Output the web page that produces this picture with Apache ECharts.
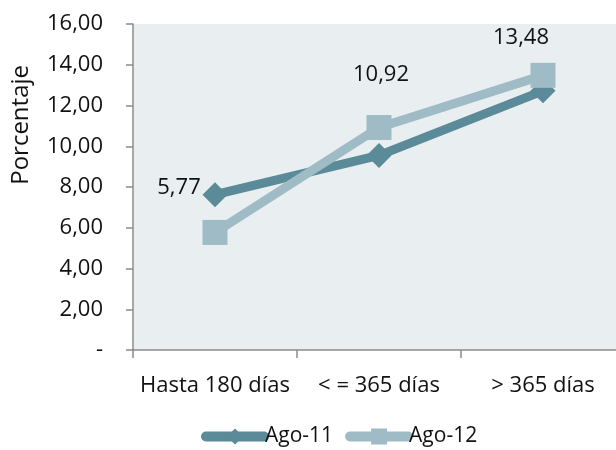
<!DOCTYPE html>
<html>
<head>
<meta charset="utf-8">
<script src="https://cdn.jsdelivr.net/npm/echarts@6/dist/echarts.min.js"></script>
<style>
  html, body { margin: 0; padding: 0; background: #fff; overflow: hidden; }
  #main { width: 626px; height: 450px; }
</style>
</head>
<body>
<div id="main"></div>
<script>
// datos
var categorias = ['Hasta 180 días', '< = 365 días', '> 365 días'];
var ago11 = [7.62, 9.55, 12.72];
var ago12 = [5.77, 10.92, 13.48];
var etiquetasOffset = [[-36, -45], [2, -53], [-22, -38]];

var fuente = '"Open Sans", "Noto Sans", sans-serif';
var oscuro = '#5b8a98';
var claro = '#9fbcc6';
var myChart = echarts.init(document.getElementById('main'));

var option = {
    animation: false,
    textStyle: { fontFamily: fuente },
    grid: {
        left: 133, top: 24, right: 1, bottom: 100,
        show: true, backgroundColor: '#e9eef1', borderWidth: 0
    },
    legend: {
        top: 426,
        left: 201,
        padding: 0,
        itemWidth: 58,
        itemHeight: 20,
        itemGap: 12,
        textStyle: { fontSize: 21, color: '#111', fontFamily: fuente, padding: [0, 0, 0, -4] },
        data: [
            { name: 'Ago-11', lineStyle: { width: 10, color: oscuro, cap: 'round' } },
            { name: 'Ago-12', lineStyle: { width: 10, color: claro, cap: 'round' } }
        ]
    },
    graphic: [{
        type: 'text',
        left: 9,
        top: 65,
        rotation: Math.PI / 2,
        style: { text: 'Porcentaje', fontSize: 24, fill: '#111', fontFamily: fuente }
    }],
    xAxis: {
        type: 'category',
        data: categorias,
        boundaryGap: true,
        axisLine: { lineStyle: { color: '#8c8c8c', width: 1.5 } },
        axisTick: { show: true, interval: 0, length: 8, lineStyle: { color: '#8c8c8c', width: 1.5 } },
        axisLabel: { interval: 0, hideOverlap: false, fontSize: 22, color: '#111', margin: 25, fontFamily: fuente }
    },
    yAxis: {
        type: 'value',
        min: 0, max: 16, interval: 2,
        splitLine: { show: false },
        axisLine: { show: true, lineStyle: { color: '#8c8c8c', width: 1.5 } },
        axisTick: { show: true, length: 7, lineStyle: { color: '#8c8c8c', width: 1.5 } },
        axisLabel: {
            fontSize: 22, color: '#111', margin: 30, fontFamily: fuente,
            formatter: function (v) { return v === 0 ? '-' : v.toFixed(2).replace('.', ','); }
        }
    },
    series: [
        {
            name: 'Ago-11',
            type: 'line',
            data: ago11,
            symbol: 'diamond',
            symbolSize: 25,
            lineStyle: { color: oscuro, width: 9 },
            itemStyle: { color: oscuro },
            z: 2
        },
        {
            name: 'Ago-12',
            type: 'line',
            data: ago12.map(function (v, i) {
                return {
                    value: v,
                    label: { offset: etiquetasOffset[i] }
                };
            }),
            symbol: 'rect',
            symbolSize: 25,
            lineStyle: { color: claro, width: 9 },
            itemStyle: { color: claro },
            label: {
                show: true,
                position: 'inside',
                fontSize: 22,
                color: '#111',
                fontFamily: fuente,
                formatter: function (p) { return p.value.toFixed(2).replace('.', ','); }
            },
            z: 3
        }
    ]
};
myChart.setOption(option);
</script>
</body>
</html>
